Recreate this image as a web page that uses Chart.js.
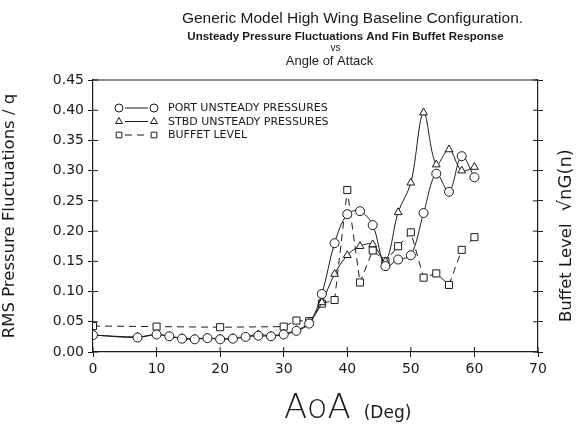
<!DOCTYPE html>
<html>
<head>
<meta charset="utf-8">
<script src="https://cdn.jsdelivr.net/npm/chart.js@4.4.1/dist/chart.umd.min.js"></script>
<style>
html,body{margin:0;padding:0;background:#fff;}
#wrap{width:576px;height:428px;position:relative;}
</style>
</head>
<body>
<div id="wrap"><canvas id="c" width="576" height="428"></canvas></div>
<script>
// ---- data ----
const aoa = [0,7,10,12,14,16,18,20,22,24,26,28,30,32,34,36,38,40,42,44,46,48,50,52,54,56,58,60];
const portPressure = [0.028,0.024,0.029,0.026,0.022,0.021,0.023,0.021,0.022,0.025,0.027,0.026,0.029,0.035,0.047,0.096,0.180,0.228,0.233,0.210,0.142,0.153,0.160,0.230,0.295,0.265,0.324,0.289];
const stbdPressure = [0.028,0.025,0.029,0.026,0.023,0.022,0.023,0.022,0.023,0.025,0.029,0.027,0.030,0.036,0.048,0.082,0.129,0.160,0.175,0.178,0.150,0.231,0.280,0.396,0.310,0.335,0.300,0.306];
const buffetAoa = [0,10,20,30,32,34,36,38,40,42,44,46,48,50,52,54,56,58,60];
const buffetLevel = [0.043,0.042,0.041,0.042,0.052,0.051,0.080,0.086,0.268,0.115,0.168,0.150,0.175,0.198,0.123,0.130,0.111,0.169,0.190];
const xTicks = [0,10,20,30,40,50,60,70];
const yTicks = [0,0.05,0.10,0.15,0.20,0.25,0.30,0.35,0.40,0.45];
const seriesNames = ['PORT UNSTEADY PRESSURES','STBD UNSTEADY PRESSURES','BUFFET LEVEL'];
const titleLines = ['Generic Model High Wing Baseline Configuration.','Unsteady Pressure Fluctuations And Fin Buffet Response','vs','Angle of Attack'];
const yTitle = 'RMS Pressure Fluctuations / q';
const y2TitleParts = ['Buffet Level', '\u221AnG(n)'];

const FONT = '"DejaVu Sans", "Liberation Sans", sans-serif';
const FONT2 = '"Liberation Sans", Arial, sans-serif';
const INK = '#1a1a1a';

function pts(xs, ys){ return xs.map((x,i)=>({x:x,y:ys[i]})); }

// titles, legend, crossing ticks and x-axis title
const decor = {
  id:'decor',
  afterDraw(chart){
    const ctx = chart.ctx, a = chart.chartArea;
    const xs = chart.scales.x, ys = chart.scales.y;
    ctx.save();
    ctx.fillStyle = INK; ctx.strokeStyle = INK;
    // frame top line
    ctx.lineWidth = 1.2;
    ctx.beginPath(); ctx.moveTo(a.left, a.top); ctx.lineTo(a.right, a.top); ctx.stroke();
    // inner ticks
    ctx.lineWidth = 1;
    ctx.beginPath();
    yTicks.forEach(v=>{ const p = ys.getPixelForValue(v); ctx.moveTo(a.left, p); ctx.lineTo(a.left+5, p); ctx.moveTo(a.right, p); ctx.lineTo(a.right-5, p); });
    xTicks.forEach(v=>{ const p = xs.getPixelForValue(v); ctx.moveTo(p, a.bottom); ctx.lineTo(p, a.bottom-5); });
    ctx.stroke();
    // titles
    ctx.textAlign = 'center'; ctx.textBaseline = 'alphabetic';
    const cx = (a.left + a.right)/2;
    ctx.font = '15.5px ' + FONT2; ctx.fillText(titleLines[0], cx+37, 23);
    ctx.font = 'bold 11.5px ' + FONT2; ctx.fillText(titleLines[1], cx+30, 40);
    ctx.font = '10px ' + FONT2; ctx.fillText(titleLines[2], cx+20, 51);
    ctx.font = '13px ' + FONT2; ctx.fillText(titleLines[3], cx+14, 65);
    // x axis title
    ctx.textAlign = 'left';
    ctx.font = '200 34px ' + FONT;
    const w1 = ctx.measureText('AoA').width;
    const x0 = 284;
    ctx.fillText('AoA', x0, 418);
    ctx.font = '17px ' + FONT;
    ctx.fillText('(Deg)', x0 + w1 + 13, 418);
    // right title
    ctx.save();
    ctx.translate(571, a.bottom - 30);
    ctx.rotate(-Math.PI/2);
    ctx.textAlign = 'left';
    ctx.font = '16.5px ' + FONT;
    ctx.fillText(y2TitleParts[0], 0, 0);
    const wl = ctx.measureText(y2TitleParts[0]).width;
    ctx.font = '18px ' + FONT;
    ctx.fillText(y2TitleParts[1], wl + 12, 0);
    ctx.restore();
    // legend
    const ds = chart.data.datasets;
    ctx.font = '11px ' + FONT;
    ctx.textBaseline = 'middle';
    ds.forEach((d,i)=>{
      const yy = 108 + i*13.5, xa = 119, xb = 154;
      ctx.save();
      ctx.lineWidth = 1;
      ctx.setLineDash(d.borderDash || []);
      ctx.beginPath(); ctx.moveTo(xa+6, yy); ctx.lineTo(xb-6, yy); ctx.stroke();
      ctx.restore();
      [xa, xb].forEach(px=>{
        ctx.save();
        ctx.fillStyle = '#fff'; ctx.strokeStyle = INK; ctx.lineWidth = 1;
        Chart.helpers.drawPoint(ctx, {pointStyle:d.pointStyle, rotation:0, radius:4, borderWidth:1}, px, yy);
        ctx.restore();
      });
      ctx.fillText(seriesNames[i], 168, yy+0.5);
    });
    ctx.restore();
  }
};

const ctx = document.getElementById('c').getContext('2d');
new Chart(ctx, {
  type:'line',
  data:{
    datasets:[
      {label:seriesNames[0], data:pts(aoa, portPressure), pointStyle:'circle', pointRadius:4.5, borderColor:INK, borderWidth:1, pointBackgroundColor:'#fff', pointBorderColor:INK, pointBorderWidth:1, tension:0.35, fill:false},
      {label:seriesNames[1], data:pts(aoa, stbdPressure), pointStyle:'triangle', pointRadius:4.5, borderColor:INK, borderWidth:1, pointBackgroundColor:'#fff', pointBorderColor:INK, pointBorderWidth:1, tension:0.35, fill:false},
      {label:seriesNames[2], data:pts(buffetAoa, buffetLevel), pointStyle:'rect', pointRadius:5, borderColor:INK, borderWidth:1, borderDash:[7,5], pointBackgroundColor:'#fff', pointBorderColor:INK, pointBorderWidth:1, tension:0, fill:false}
    ]
  },
  options:{
    responsive:false, animation:false,
    layout:{padding:{top:80, left:0, right:0, bottom:0}},
    plugins:{legend:{display:false}, tooltip:{enabled:false}, title:{display:false}},
    scales:{
      x:{type:'linear', min:0, max:70, afterFit(s){ s.height = 76; },
         afterBuildTicks(s){ s.ticks = xTicks.map(v=>({value:v})); },
         ticks:{color:INK, font:{family:FONT, size:14}, padding:4, maxRotation:0},
         grid:{display:true, drawOnChartArea:false, drawTicks:true, tickLength:5, color:INK},
         border:{display:true, color:INK, width:1.2}},
      y:{type:'linear', min:0, max:0.45, position:'left', afterFit(s){ s.width = 93; },
         afterBuildTicks(s){ s.ticks = yTicks.map(v=>({value:v})); },
         ticks:{color:INK, font:{family:FONT, size:14}, padding:4, callback:v=>v.toFixed(2)},
         grid:{display:true, drawOnChartArea:false, drawTicks:true, tickLength:5, color:INK},
         border:{display:true, color:INK, width:1.2},
         title:{display:true, text:yTitle, color:INK, font:{family:FONT, size:16.5}, padding:{top:0,bottom:4}}},
      y2:{type:'linear', min:0, max:0.45, position:'right', afterFit(s){ s.width = 38; },
         afterBuildTicks(s){ s.ticks = yTicks.map(v=>({value:v})); },
         ticks:{display:false},
         grid:{display:true, drawOnChartArea:false, drawTicks:true, tickLength:5, color:INK},
         border:{display:true, color:INK, width:1.2}}
    }
  },
  plugins:[decor]
});
</script>
</body>
</html>
